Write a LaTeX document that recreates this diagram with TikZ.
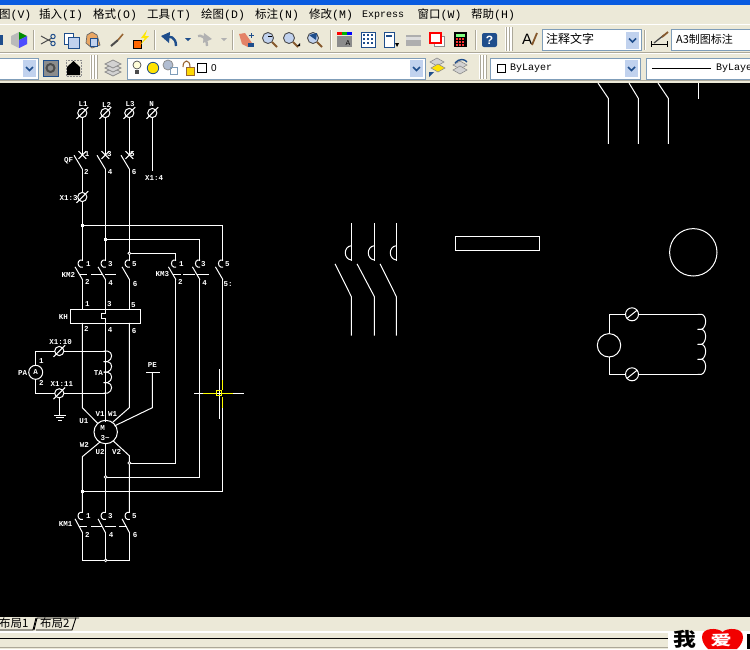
\documentclass[tikz,border=0pt]{standalone}
\usepackage{fontspec}
\setmainfont{Liberation Sans}
\newfontfamily\cjkf{Noto Sans CJK SC}
\newfontfamily\monof{Liberation Mono}
\definecolor{uibg}{HTML}{ECE9D8}
\definecolor{uiline}{HTML}{ACA899}
\definecolor{combob}{HTML}{7F9DB9}
\definecolor{btnb}{HTML}{C1D2EE}
\definecolor{xpblue}{HTML}{0A5CE0}
\definecolor{cadyel}{HTML}{FFFF00}
\definecolor{icblue}{HTML}{1F4E8C}
\definecolor{icgray}{HTML}{8C8C8C}
\newcount\labn
\newcommand\lab[3]{\global\advance\labn by 1\node[cadlab] (lab\the\labn) at (#1,#2) {#3};}
\newcommand\menuitem[3]{\global\advance\labn by 1\node[menut] (lab\the\labn) at (#1,15) {{\cjkf #2}{\monof #3}};}
\newcommand\tsep[3]{\draw[uiline,line width=.7pt] (#1,#2) -- (#1,#3);\draw[white,line width=.7pt] (#1+1,#2) -- (#1+1,#3);}
\newcommand\tgrip[3]{\fill[white] (#1,#2) rectangle (#1+8,#3);\draw[uiline,line width=.7pt] (#1+1,#2) -- (#1+1,#3) (#1+4,#2) -- (#1+4,#3) (#1+7,#2) -- (#1+7,#3);}
\newcommand\combobox[5]{\fill[white,draw=combob,line width=.9pt] (#1,#3) rectangle (#2,#4);
  \ifnum#5=1 \fill[btnb,draw=white,line width=.5pt] (#2-16,#3+1.5) rectangle (#2-1.5,#4-1.5);
  \draw[icblue,line width=1.5pt] (#2-12,#3+9) -- (#2-8.5,#3+12.5) -- (#2-5,#3+9);\fi}
\newcommand\term[2]{\draw[wire,fill=black] (#1,#2) circle (4.6);\draw[wire] (#1-5.5,#2+5.5) -- (#1+5.5,#2-5.5);}
\newcommand\dcontact[2]{\draw[wire] (#1,#2) -- (#1-2,#2) .. controls (#1-5,#2+1) and (#1-5,#2+6) .. (#1-2,#2+7) -- (#1,#2+7);}
\newcommand\blade[2]{\draw[wire] (#1-7,#2+7.3) -- (#1,#2+19.3);}
\newcommand\bcoil[4]{% x, y start, hump height, count
  \foreach \k in {1,...,#4}{\draw[wire] (#1-1.5,#2+\k*#3-#3) -- (#1+2,#2+\k*#3-#3) .. controls (#1+7.5,#2+\k*#3-#3+1) and (#1+7.5,#2+\k*#3-2) .. (#1+2,#2+\k*#3) -- (#1-1.5,#2+\k*#3);}}
\tikzset{
  wire/.style={draw=white,line width=1pt,line cap=rect},
  cadlab/.style={text=white,inner sep=0pt,font=\monof\bfseries\fontsize{7.5}{7.5}\selectfont},
  menut/.style={text=black,inner sep=0pt,anchor=west,font=\fontsize{11.5}{12}\selectfont},
  uit/.style={text=black,inner sep=0pt,anchor=west,font=\fontsize{11}{12}\selectfont},
  jsq/.style={fill=white,draw=none},
}
\begin{document}
\begin{tikzpicture}[x=1pt,y=-1pt]
\useasboundingbox (0,0) rectangle (750,649);
% window
\fill[uibg] (0,0) rectangle (750,649);
\fill[xpblue] (0,0) rectangle (750,4.5);
\fill[black] (0,83) rectangle (750,617);
% menu bar
\menuitem{-1}{图}{(V)}
\menuitem{39}{插入}{(I)}
\menuitem{93}{格式}{(O)}
\menuitem{147}{工具}{(T)}
\menuitem{201}{绘图}{(D)}
\menuitem{255}{标注}{(N)}
\menuitem{309}{修改}{(M)}
\global\advance\labn by 1\node[menut,font=\monof\fontsize{10}{12}\selectfont] (lab\the\labn) at (362,15) {Express};
\menuitem{417.5}{窗口}{(W)}
\menuitem{471}{帮助}{(H)}
\fill[white] (0,23.5) rectangle (750,25);
\draw[uiline,line width=.7pt] (0,52) -- (750,52);
\fill[white] (0,52.5) rectangle (750,53.5);
\draw[uiline,line width=.7pt] (0,80.5) -- (750,80.5);
% toolbar row 1: separators and grips
\tsep{33}{30}{50}\tsep{154}{30}{50}\tsep{232}{30}{50}\tsep{330}{30}{50}\tsep{475}{30}{50}
\tgrip{505}{27}{51}
\tsep{644}{30}{50}
% icons row 1
\fill[icblue] (0,35) rectangle (3,45);
\fill[icgray!60] (11,36) -- (19,32) -- (27,36) -- (27,44) -- (19,48) -- (11,44) -- cycle;
\fill[green!55!black] (19,32) -- (27,36) -- (19,40) -- cycle;
\fill[blue!70] (19,40) -- (27,36) -- (27,44) -- (19,48) -- cycle;
\draw[black!70,line width=1pt] (41,36) -- (52,42) (41,44) -- (52,38);
\draw[icblue,line width=1pt] (53,36.5) circle (2.2) (53,43.5) circle (2.2);
\fill[white,draw=icblue,line width=.9pt] (64,33) rectangle (73,44);
\fill[btnb,draw=icblue,line width=.9pt] (68,37) rectangle (79,48);
\fill[orange!50!brown!70,draw=black!60,line width=.7pt] (87,35) -- (92,32) -- (97,35) -- (100,45) -- (92,48) -- (86,43) -- cycle;
\fill[btnb,draw=icblue,line width=.7pt] (90,38) rectangle (97,46);
\draw[black!70,line width=2pt] (111,46) -- (118,40);
\draw[brown!80!black,line width=1.6pt] (118,40) -- (123,34);
\fill[orange!80!red,draw=black,line width=.5pt] (133,40) rectangle (141,48);
\fill[yellow!90!orange] (147,30) -- (141,38) -- (145,38) -- (140,45) -- (149,36) -- (145,36) -- cycle;
\draw[icblue,line width=2.4pt] (176,46) .. controls (176,37) and (170,35) .. (164,38);
\fill[icblue] (161,36) -- (170,32) -- (169,43) -- cycle;
\fill[icblue] (185,38) -- (191,38) -- (188,41) -- cycle;
\draw[gray!60,line width=2.4pt] (207,46) .. controls (207,37) and (201,35) .. (198,36);
\fill[gray!60] (212,39) -- (204,33) -- (203,43) -- cycle;
\fill[gray!60] (221,38) -- (227,38) -- (224,41) -- cycle;
\fill[brown!60!red!70] (239,34) -- (245,33) -- (252,43) -- (248,47) -- (242,44) -- cycle;
\fill[icblue] (248,43) rectangle (254,47);
\draw[icblue,line width=1pt] (251,33) -- (251,38) (248.5,35.5) -- (253.5,35.5);
\foreach \zx/\zc in {269/white,290/white,314/white}{
  \fill[btnb,draw=black!70,line width=.9pt] (\zx-1,38) circle (5.5);
  \draw[brown!70!black,line width=2pt] (\zx+3,42) -- (\zx+8,47);}
\draw[black,line width=.6pt] (268,36) -- (272,36);
\fill[black] (297,46) -- (300,46) -- (300,43) -- cycle;
\fill[icblue] (309,35) -- (317,33) -- (316,40) -- cycle;
\fill[red] (337,32) rectangle (342,35);\fill[green!70!black] (342,32) rectangle (347,35);\fill[blue] (347,32) rectangle (352,35);
\fill[icgray] (337,36) rectangle (352,47);\node[inner sep=0pt,font=\fontsize{7}{7}\selectfont] (lab900) at (348,43) {A};
\fill[white,draw=icblue,line width=.9pt] (361,32) rectangle (375,47);
\foreach \gx in {364,368,372}\foreach \gy in {35,39,43}{\fill[icblue] (\gx-1,\gy-1) rectangle (\gx+1,\gy+1);}
\fill[white,draw=icblue,line width=.8pt] (384,32) rectangle (394,47);
\fill[icblue] (386,35) rectangle (392,37);\fill[black] (395,43) -- (399,43) -- (397,47) -- cycle;
\fill[icgray!70] (406,35) rectangle (421,46);\fill[white!70!icgray] (406,37) rectangle (421,40);
\fill[white,draw=icgray,line width=.7pt] (434,36) rectangle (444,46);
\fill[white,draw=red,line width=1.4pt] (430,33) rectangle (441,43);
\fill[black] (454,32) rectangle (467,47);\fill[green!50] (456,34) rectangle (465,37);
\foreach \cx in {457,460,463}\foreach \cy in {39,42,45}{\fill[red!80!white] (\cx-.8,\cy-.8) rectangle (\cx+.8,\cy+.8);}
\fill[icblue,rounded corners=2pt] (482,33) rectangle (497,47);
\node[text=white,inner sep=0pt,font=\bfseries\fontsize{12}{12}\selectfont] (lab901) at (489.5,40) {?};
\node[inner sep=0pt,font=\fontsize{15}{15}\selectfont] (lab902) at (527,39) {A};
\draw[brown!70!black,line width=1.8pt] (532,45) -- (537,33);
\combobox{542}{641}{29.5}{50.5}{1}
\node[uit,font=\cjkf\fontsize{12}{12}\selectfont] (lab903) at (546,39) {注释文字};
\draw[black,line width=.8pt] (651,44) -- (667,44) (651,41) -- (651,47) (667,41) -- (667,47);
\draw[black!70,line width=1.3pt] (654,43) -- (664,35);
\draw[brown!70!black,line width=1.8pt] (662,37) -- (668,32);
\combobox{671}{755}{29.5}{50.5}{0}
\node[uit,font=\cjkf\fontsize{11}{12}\selectfont] (lab904) at (676,39) {A3制图标注};
% toolbar row 2
\combobox{-5}{38}{58}{79}{1}
\fill[icgray,draw=icblue,line width=.4pt] (43,60) rectangle (58,76);
\draw[black!70,line width=2pt] (50.5,68) circle (4);
\fill[uibg,draw=icgray,densely dotted,line width=.5pt] (66,60) rectangle (81,76);
\fill[black] (73.5,61) -- (80,67) -- (80,75) -- (67,75) -- (67,67) -- cycle;
\tgrip{90}{55}{79}
\foreach \ly in {72,68,64}{\fill[gray!35,draw=icgray,line width=.7pt] (113,\ly-4) -- (121,\ly) -- (113,\ly+4) -- (105,\ly) -- cycle;}
\combobox{127}{425}{58}{79}{1}
\draw[black!70,fill=yellow!15,line width=.7pt] (137,65) circle (4);\fill[black!70] (135,70) rectangle (139,74);
\fill[yellow!85!orange,draw=icblue,line width=.8pt] (153,68) circle (5.7);
\fill[btnb!70!icgray,draw=icgray,line width=.8pt] (168,65) circle (5);\draw[combob,line width=.8pt] (170,67) rectangle (177,74);
\draw[brown!80!black,line width=1.1pt] (183,67) .. controls (183,59) and (190,59) .. (190,67);
\fill[yellow!75!orange,draw=brown!80!black,line width=.7pt] (186,67) rectangle (194,75);
\draw[black,line width=.8pt] (197,63.5) rectangle (206,72.5);
\node[uit,font=\fontsize{10}{12}\selectfont] (lab905) at (211,68) {0};
\fill[gray!35,draw=icgray,line width=.6pt] (437,58) -- (444,62) -- (437,66) -- (430,62) -- cycle;
\fill[yellow!85!orange,draw=icgray,line width=.6pt] (438,64) -- (445,68) -- (438,72) -- (431,68) -- cycle;
\fill[icblue] (429,72) -- (434,72) -- (429,77) -- cycle;
\fill[gray!35,draw=icgray,line width=.6pt] (460,61) -- (467,65) -- (460,69) -- (453,65) -- cycle;
\fill[gray!35,draw=icgray,line width=.6pt] (460,66) -- (467,70) -- (460,74) -- (453,70) -- cycle;
\draw[icblue,line width=1.4pt] (455,63) .. controls (459,58) and (465,59) .. (467,62);
\tgrip{479}{55}{79}
\combobox{490}{640}{58}{79}{1}
\draw[black,line width=.8pt] (497,64) rectangle (505.5,72.5);
\node[uit,font=\monof\fontsize{10}{12}\selectfont] (lab906) at (510,68) {ByLayer};
\combobox{646}{755}{58}{79}{0}
\draw[black,line width=.8pt] (652,68) -- (711,68);
\node[uit,font=\monof\fontsize{10}{12}\selectfont] (lab907) at (716,68) {ByLaye};
% ---- schematic
\foreach \px in {82.3,105.3,129.3,152.3}{\term{\px}{113}}
\foreach \px in {82.3,105.3,129.3}{
  \draw[wire] (\px,117.6) -- (\px,155);
  \draw[wire] (\px-3.5,151.5) -- (\px+3.5,158.5) (\px-3.5,158.5) -- (\px+3.5,151.5);
  \draw[wire] (\px-8,155.7) -- (\px,169);
}
\draw[wire] (152.3,117.6) -- (152.3,170);
\term{82.3}{197}
\draw[wire] (82.3,169) -- (82.3,192.4) (82.3,201.6) -- (82.3,260);
\draw[wire] (105.3,169) -- (105.3,260);
\draw[wire] (129.3,169) -- (129.3,260);
% bus lines
\draw[wire] (82.3,225.3) -- (222.7,225.3) -- (222.7,260);
\draw[wire] (105.3,239.3) -- (199.7,239.3) -- (199.7,260);
\draw[wire] (129.3,253.3) -- (175.7,253.3) -- (175.7,260);
\fill[jsq] (80.8,223.8) rectangle (83.8,226.8);
\fill[jsq] (103.8,237.8) rectangle (106.8,240.8);
\draw[white,line width=.8pt,fill=black] (129.3,253.3) circle (1.4);
% KM2, KM3, KM1 contacts
\foreach \px in {82.3,105.3,129.3,175.7,199.7,222.7}{\dcontact{\px}{260}\blade{\px}{260}}
\foreach \px in {82.3,105.3,129.3}{\dcontact{\px}{512.3}\draw[wire] (\px-7,519.3) -- (\px,532.3);}
\draw[wire] (80,274.3) -- (86.7,274.3) (91,274.3) -- (101,274.3) (105.3,274.3) -- (115,274.3);
\draw[wire] (173,274.3) -- (180,274.3) (183,274.3) -- (194,274.3) (197.7,274.3) -- (208,274.3);
\draw[wire] (79.3,526.3) -- (86.7,526.3) (91,526.3) -- (101,526.3) (105,526.3) -- (115,526.3) (119,526.3) -- (126,526.3);
% thermal relay
\draw[wire] (70.3,309.3) rectangle (140.7,323.3);
\draw[wire] (82.3,279.3) -- (82.3,309.3) (105.3,279.3) -- (105.3,313) -- (101,313) -- (101,318.3) -- (105.3,318.3) -- (105.3,323.3) (129.3,279.3) -- (129.3,309.3);
% wires to motor
\draw[wire] (82.3,323.3) -- (82.3,407.7) -- (97.7,423.3);
\draw[wire] (105.3,323.3) -- (105.3,421);
\draw[wire] (129.3,323.3) -- (129.3,407.7) -- (113,422);
% KM3 down lines
\draw[wire] (175.7,279.3) -- (175.7,463) -- (129.3,463);
\draw[wire] (199.7,279.3) -- (199.7,477) -- (105.3,477);
\draw[wire] (222.7,279.3) -- (222.7,380) (222.7,408) -- (222.7,491) -- (82.3,491);
% motor
\draw[wire] (105.7,432) circle (11.7);
\draw[wire] (115,425.7) -- (152.3,407.7) -- (152.3,372.7);
\draw[wire] (146,372.7) -- (159,372.7);
\draw[wire] (100,442) -- (82.3,456.7) -- (82.3,512.3);
\draw[wire] (105.3,443.7) -- (105.3,512.3);
\draw[wire] (113.3,441) -- (129.3,455.7) -- (129.3,512.3);
\draw[white,line width=.8pt,fill=black] (129.3,463) circle (1.4);
\draw[white,line width=.8pt,fill=black] (105.7,477) circle (1.4);
\fill[jsq] (80.8,489.5) rectangle (83.8,492.5);
% KM1 bottom
\draw[wire] (82.3,532.3) -- (82.3,560.3) -- (129.3,560.3) -- (129.3,532.3);
\draw[wire] (105.3,532.3) -- (105.3,560.3);
\draw[white,line width=.8pt,fill=black] (105.7,560.3) circle (1.4);
% ammeter circuit
\draw[wire] (35.7,365.3) -- (35.7,351) -- (54.7,351) (63.9,351) -- (105.3,351);
\draw[wire] (35.7,379.3) -- (35.7,393.3) -- (54.7,393.3) (63.9,393.3) -- (105.3,393.3);
\term{59.3}{351}\term{59.3}{393.3}
\draw[wire] (35.7,372.3) circle (7);
\bcoil{105.5}{351}{10.55}{4}
\draw[wire] (59.3,397.9) -- (59.3,415);
\draw[wire] (54,415) -- (65,415) (56,417.7) -- (63,417.7) (58,420.7) -- (61,420.7);
% crosshair
\draw[white,line width=.9pt] (194,393.3) -- (244,393.3) (219.3,369) -- (219.3,419);
\draw[cadyel,line width=1pt] (203.3,393.3) -- (215.5,393.3) (221,393.3) -- (233.3,393.3) (222.7,380) -- (222.7,390) (222.7,397) -- (222.7,408);
\draw[cadyel,line width=1pt] (216,390.8) rectangle (221,395.8);
% labels
\lab{83}{104}{L1}\lab{106.7}{104.5}{L2}\lab{130}{104.5}{L3}\lab{151.5}{104.5}{N}
\lab{87}{154}{1}\lab{109.3}{153.7}{3}\lab{132.3}{153.7}{5}\lab{68.7}{160.7}{QF}
\lab{86.3}{171.7}{2}\lab{110}{172}{4}\lab{134}{171.7}{6}
\lab{154}{178.3}{X1:4}\lab{68.7}{198.3}{X1:3}
\lab{68.3}{275.3}{KM2}\lab{88.3}{263.7}{1}\lab{110.3}{263.7}{3}\lab{134.3}{263.7}{5}
\lab{87.3}{282.3}{2}\lab{110.7}{283}{4}\lab{135}{283.7}{6}
\lab{162.3}{274}{KM3}\lab{181.3}{263.7}{1}\lab{203.3}{263.7}{3}\lab{227.3}{263.7}{5}
\lab{180.3}{282}{2}\lab{204.7}{283}{4}\lab{228}{283.7}{5:}
\lab{87.3}{303.7}{1}\lab{109.3}{304.3}{3}\lab{133.3}{304.7}{5}\lab{63.3}{316.7}{KH}
\lab{86.3}{329.3}{2}\lab{110}{330}{4}\lab{134}{330.7}{6}
\lab{60.7}{342.3}{X1:10}\lab{41.3}{360.7}{1}\lab{22.7}{372.7}{PA}\lab{35.7}{372.5}{A}\lab{41.3}{383.3}{2}
\lab{62}{384.3}{X1:11}\lab{98.3}{372.7}{TA}\lab{152.3}{364.7}{PE}
\lab{84}{420.7}{U1}\lab{100}{414.3}{V1}\lab{112.7}{414.3}{W1}\lab{102.5}{428.3}{M}\lab{105}{437.7}{3\textasciitilde}
\lab{84.3}{445.3}{W2}\lab{100}{452.3}{U2}\lab{116.7}{451.7}{V2}
\lab{65.7}{524.3}{KM1}\lab{88.3}{515.7}{1}\lab{110.3}{515.7}{3}\lab{134.3}{515.7}{5}
\lab{87.3}{534.7}{2}\lab{111}{535}{4}\lab{135}{535.3}{6}
% ---- right-hand symbols
\foreach \px/\bx in {351.3/335.3,374.3/357.3,396.3/380.3}{
  \draw[wire] (\px,223.3) -- (\px,260);
  \draw[wire] (\px,245.7) .. controls (\px-8,246.5) and (\px-8,259) .. (\px,260);
  \draw[wire] (\bx,264.3) -- (\px,296.5) -- (\px,335);
}
\draw[wire] (455.3,236.3) rectangle (539.7,250.3);
\foreach \tx/\ux in {598.3/608.3,629.3/638.3,658.3/668.3}{
  \draw[wire] (\tx,83.5) -- (\ux,98.3) -- (\ux,143.3);
}
\draw[wire] (698.3,83.5) -- (698.3,98.7);
\draw[wire] (693.3,252.3) circle (23.7);
\draw[wire] (609,345.3) circle (11.7);
\draw[wire] (609,333.6) -- (609,314.3) -- (625.5,314.3) (638.5,314.3) -- (700,314.3);
\draw[wire] (609,357) -- (609,374.3) -- (625.5,374.3) (638.5,374.3) -- (700,374.3);
\foreach \ty in {314.3,374.3}{
  \draw[wire,fill=black] (632,\ty) circle (6.5);
  \draw[wire] (627,\ty+4) -- (637,\ty-4);
}
\bcoil{699.5}{314.3}{15}{4}
% ---- bottom bar
\fill[white] (0,631) rectangle (750,633);
\draw[black,line width=.9pt] (0,630) -- (33,630) -- (36,618);
\fill[uibg] (37,618.5) -- (78,618.5) -- (72,629.5) -- (36,629.5) -- cycle;
\draw[black,line width=.9pt] (34,630) -- (37,618) -- (79,618);
\draw[black,line width=.9pt] (36,630) -- (72,630) -- (76,617.5);
\node[uit,font=\cjkf\fontsize{11.5}{12}\selectfont] (lab908) at (-1,623.5) {布局1};
\node[uit,font=\cjkf\fontsize{11.5}{12}\selectfont] (lab909) at (40,623.5) {布局2};
\draw[black,line width=.9pt] (0,638) -- (672,638);
\draw[uiline,line width=1pt] (0,647.7) -- (672,647.7);
% watermark
\fill[white] (668,631) rectangle (750,649);
\node[inner sep=0pt,text=black,transform shape,xscale=1.2,font=\cjkf\bfseries\fontsize{19}{19}\selectfont] (lab910) at (685,639) {我};
\fill[red!95!black] (722.5,632) .. controls (718,627.5) and (702,627) .. (702,637) .. controls (702,642) and (705,646) .. (708,649) -- (737,649) .. controls (740,646) and (743,642) .. (743,637) .. controls (743,627) and (727,627.5) .. (722.5,632) -- cycle;
\node[inner sep=0pt,text=white,transform shape,xscale=1.5,font=\cjkf\bfseries\fontsize{14}{14}\selectfont] (lab911) at (721,640.5) {爱};
\fill[black] (747,634) rectangle (750,649);
\end{tikzpicture}
\end{document}
